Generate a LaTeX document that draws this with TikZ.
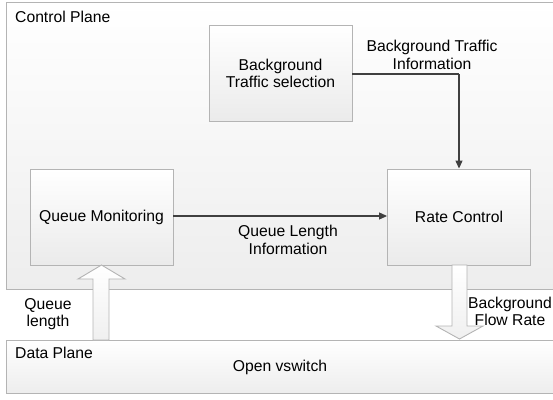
\documentclass[tikz,border=0pt]{standalone}
\usepackage{fontspec}
\setmainfont{Liberation Sans}
\usetikzlibrary{arrows.meta}
\definecolor{edgegray}{HTML}{B4B4B4}
\definecolor{linegray}{HTML}{404040}
\tikzset{
  plane/.style={draw=edgegray, line width=0.9pt, top color=white, bottom color=black!7, inner sep=0pt},
  block/.style={draw=edgegray, line width=0.9pt, top color=white, bottom color=black!8,
    minimum width=143pt, minimum height=96pt, align=center, inner sep=0pt},
  flow/.style={draw=linegray, line width=1.1pt, -{Triangle[length=8pt,width=7pt]}},
  fat/.style={draw=edgegray, line width=0.9pt, top color=white, bottom color=black!6},
  lbl/.style={align=center, inner sep=0pt}
}
\begin{document}
\begin{tikzpicture}[x=1pt,y=-1pt, font=\fontsize{15.7}{17.5}\selectfont]
\useasboundingbox (0,0) rectangle (553,399);
% planes
\node[plane, minimum width=556pt, minimum height=287pt, anchor=north west] (cp) at (6,2) {};
\node[plane, minimum width=556pt, minimum height=53pt, anchor=north west] (dp) at (6,340) {};
\node[lbl, anchor=west] (cpt) at (15,17) {Control Plane};
\node[lbl, anchor=west] (dpt) at (15,353) {Data Plane};
\node[lbl] (ovs) at (280,367) {Open vswitch};
% functional blocks
\node[block] (bts) at (280.5,73.5) {Background\\Traffic selection};
\node[block] (qm) at (101.5,217) {Queue Monitoring};
\node[block] (rc) at (459,217) {Rate Control};
% control connectors
\coordinate (bend) at (459,74);
\draw[flow, -] (bts.east |- bend) -- (bend);
\draw[flow] (bend) -- (rc.north);
\draw[flow] (qm.east |- 0,216) -- (rc.west |- 0,216);
\node[lbl] (bti) at (432,55) {Background Traffic\\Information};
\node[lbl] (qli) at (288,240) {Queue Length\\Information};
% block arrows between planes
\path[fat] (93,340) -- (93,279) -- (78,279) -- (101.5,265) -- (125,279) -- (109,279) -- (109,340) -- cycle;
\path[fat] (452,265) -- (452,326) -- (436,326) -- (459.5,339) -- (483,326) -- (467,326) -- (467,265) -- cycle;
\node[lbl] (ql) at (48,314) {Queue\\length};
\node[lbl] (bfr) at (510,311.5) {Background\\Flow Rate};
\end{tikzpicture}
\end{document}
